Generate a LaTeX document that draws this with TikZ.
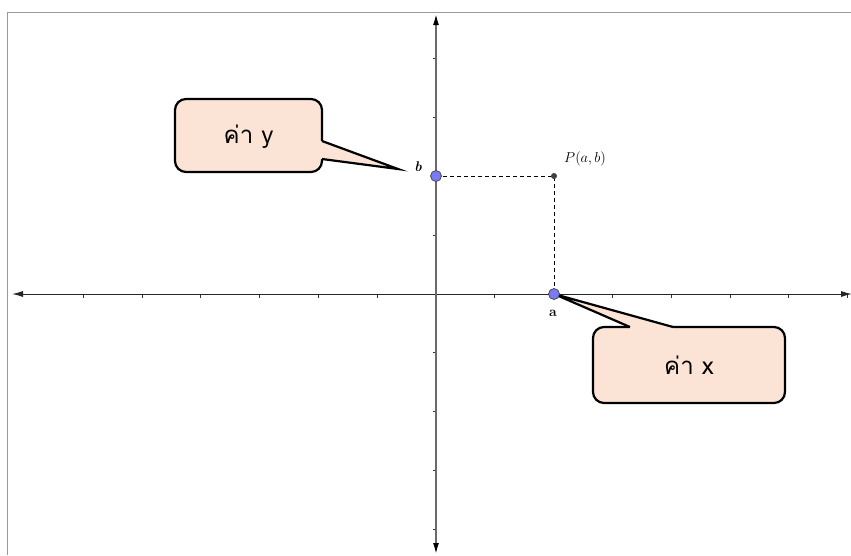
\documentclass[tikz,border=0pt]{standalone}
\usepackage{fontspec}
\newfontfamily\thaifont[Script=Thai]{Loma}
\usetikzlibrary{arrows.meta}
\definecolor{peach}{HTML}{FBE4D6}
\definecolor{ptblue}{HTML}{7A7AF2}
\definecolor{axgray}{HTML}{6A6A6A}
\tikzset{
  axisline/.style={line width=1pt, -{Latex[length=11pt,width=6pt]}},
  tickmark/.style={line width=0.8pt, black!80},
  callout/.style={draw=black, fill=peach, line width=2.2pt, line join=round},
  calledge/.style={draw=black, line width=2.2pt, line join=miter},
  calltext/.style={font=\thaifont\fontsize{24}{27}\selectfont, inner sep=0pt},
  bigpt/.style={circle, draw=black!75, fill=ptblue, line width=0.7pt, minimum size=11pt, inner sep=0pt},
  smallpt/.style={circle, fill=black!75, minimum size=6pt, inner sep=0pt},
  guide/.style={dashed, line width=0.8pt, dash pattern=on 4pt off 3pt},
  ptlabel/.style={font=\fontsize{14}{15}\selectfont\bfseries, inner sep=0pt}
}
\begin{document}
\begin{tikzpicture}[x=1pt,y=-1pt]
\useasboundingbox[fill=white] (0,0) rectangle (851,555);
% frame
\draw[gray!80, line width=1pt] (7,555) -- (7,12) -- (851,12);
% named coordinates
\coordinate (O) at (436,294);
\coordinate (xl) at (12,294);
\coordinate (xr) at (852,294);
\coordinate (yt) at (436,14);
\coordinate (yb) at (436,554);
% ticks
\foreach \k in {-6,...,7} {
  \ifnum\k=0\else
    \draw[tickmark] (436+58.8*\k,294) -- (436+58.8*\k,297.5);
  \fi
}
\foreach \k in {-4,...,4} {
  \ifnum\k=0\else
    \draw[tickmark] (432.5,294-58.8*\k) -- (436,294-58.8*\k);
  \fi
}
% axes
\draw[axisline, black!85] (O) -- (xr);
\draw[axisline, black!85] (O) -- (xl);
\draw[axisline, axgray, line width=1.6pt, -{Latex[length=11pt,width=6pt, fill=black, black]}] (O) -- (yt);
\draw[axisline, axgray, line width=1.6pt, -{Latex[length=11pt,width=6pt, fill=black, black]}] (O) -- (yb);
% points
\coordinate (P) at (554,176);
\coordinate (A) at (554,294);
\coordinate (B) at (436,176);
\draw[guide] (B) -- (P) -- (A);
% callout y
\draw[callout, rounded corners=11pt] (175,99) rectangle (322,172);
\coordinate (cy1) at (322,141);
\coordinate (cy2) at (322,159);
\coordinate (tipy) at (398,169);
\fill[peach] (312,141) -- (cy1) -- (tipy) -- (cy2) -- (312,159) -- cycle;
\draw[calledge] (cy1) -- (tipy) -- (cy2);
\node[calltext] (ty) at (248.5,137) {ค่า y};
% callout x
\draw[callout, rounded corners=11pt] (593,327) rectangle (785,403);
\coordinate (cx1) at (630,327);
\coordinate (cx2) at (673,327);
\fill[peach] (630,337) -- (cx1) -- (A) -- (cx2) -- (673,337) -- cycle;
\draw[calledge] (cx1) -- (A) -- (cx2);
\node[calltext] (tx) at (689,365) {ค่า x};
% point markers
\node[bigpt] (nb) at (B) {};
\node[bigpt] (na) at (A) {};
\node[smallpt] (np) at (P) {};
\node[ptlabel] (lb) at (418,167) {\itshape b};
\node[ptlabel, anchor=west, font=\fontsize{14}{15}\selectfont] (lp) at (564,159) {$P(a,b)$};
\node[ptlabel] (la) at (553,313) {a};
\end{tikzpicture}
\end{document}
